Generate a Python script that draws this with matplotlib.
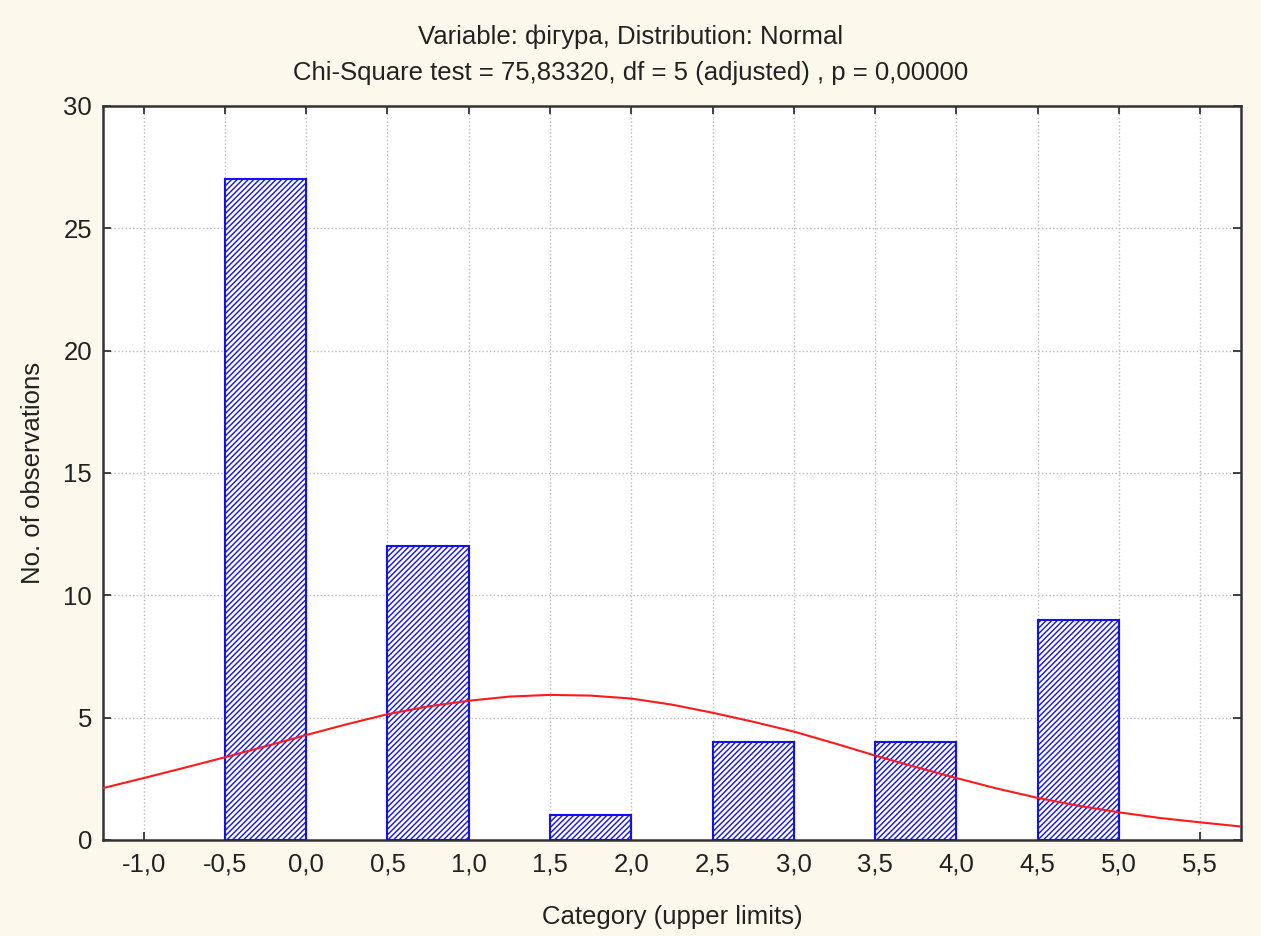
import numpy as np
import matplotlib.pyplot as plt
from matplotlib.ticker import FuncFormatter
from matplotlib import font_manager

names = {f.name for f in font_manager.fontManager.ttflist}
main_font = 'Liberation Sans Narrow' if 'Liberation Sans Narrow' in names else 'Liberation Sans'
fsize = 21 if main_font == 'Liberation Sans Narrow' else 18.5

plt.rcParams['font.family'] = [main_font, 'DejaVu Sans']
plt.rcParams['hatch.linewidth'] = 1.0
plt.rcParams['hatch.color'] = '#2020ff'

# histogram bins (upper limits) and counts
bin_lower = [-0.5, 0.5, 1.5, 2.5, 3.5, 4.5]
bin_upper = [0.0, 1.0, 2.0, 3.0, 4.0, 5.0]
counts = [27, 12, 1, 4, 4, 9]

# expected normal curve
curve_x = [-1.25, -1.0, -0.75, -0.5, -0.25, 0.0, 0.25, 0.5, 0.75, 1.0, 1.25, 1.5,
           1.75, 2.0, 2.25, 2.5, 2.75, 3.0, 3.25, 3.5, 3.75, 4.0, 4.25, 4.5,
           4.75, 5.0, 5.25, 5.5, 5.75]
curve_y = [2.12, 2.53, 2.95, 3.38, 3.83, 4.29, 4.73, 5.14, 5.46, 5.69, 5.86, 5.93,
           5.90, 5.78, 5.53, 5.20, 4.83, 4.43, 3.95, 3.45, 2.98, 2.53, 2.10, 1.72,
           1.40, 1.13, 0.90, 0.72, 0.55]

x_ticks = [-1.0, -0.5, 0.0, 0.5, 1.0, 1.5, 2.0, 2.5, 3.0, 3.5, 4.0, 4.5, 5.0, 5.5]
y_ticks = [0, 5, 10, 15, 20, 25, 30]

fig = plt.figure(figsize=(12.61, 9.36), dpi=100, facecolor='#fdf8ec')
ax = fig.add_axes([0.0817, 0.1026, 0.9023, 0.7842])
ax.set_facecolor('white')

widths = np.array(bin_upper) - np.array(bin_lower)
ax.bar(bin_lower, counts, width=widths, align='edge', color='white',
       edgecolor='#1010ff', linewidth=1.5, hatch='//////', zorder=3)
ax.plot(curve_x, curve_y, color='#ff1a1a', linewidth=1.5, zorder=4)

ax.set_xlim(-1.25, 5.75)
ax.set_ylim(0, 30)
ax.set_xticks(x_ticks)
ax.set_yticks(y_ticks)
ax.xaxis.set_major_formatter(FuncFormatter(lambda v, p: f'{v:.1f}'.replace('.', ',')))
ax.tick_params(direction='in', length=6, width=1.2, top=True, right=True,
               labelsize=fsize, colors='#222222')
ax.tick_params(axis='x', pad=9)
ax.tick_params(axis='y', pad=8)
ax.grid(True, color='#bbbbbb', linestyle=':', linewidth=1, zorder=0)
for s in ax.spines.values():
    s.set_color('#333333')
    s.set_linewidth(1.8)

ax.set_xlabel('Category (upper limits)', fontsize=fsize, color='#222222')
ax.set_ylabel('No. of observations', fontsize=fsize, color='#222222')
ax.xaxis.set_label_coords(0.5, -0.089)
ax.yaxis.set_label_coords(-0.051, 0.5)
fig.text(0.5, 0.961, 'Variable: фігура, Distribution: Normal', ha='center',
         va='center', fontsize=fsize, color='#222222')
fig.text(0.5, 0.922, 'Chi-Square test = 75,83320, df = 5 (adjusted) , p = 0,00000',
         ha='center', va='center', fontsize=fsize, color='#222222')

plt.savefig('out.png', dpi=100, facecolor=fig.get_facecolor())
